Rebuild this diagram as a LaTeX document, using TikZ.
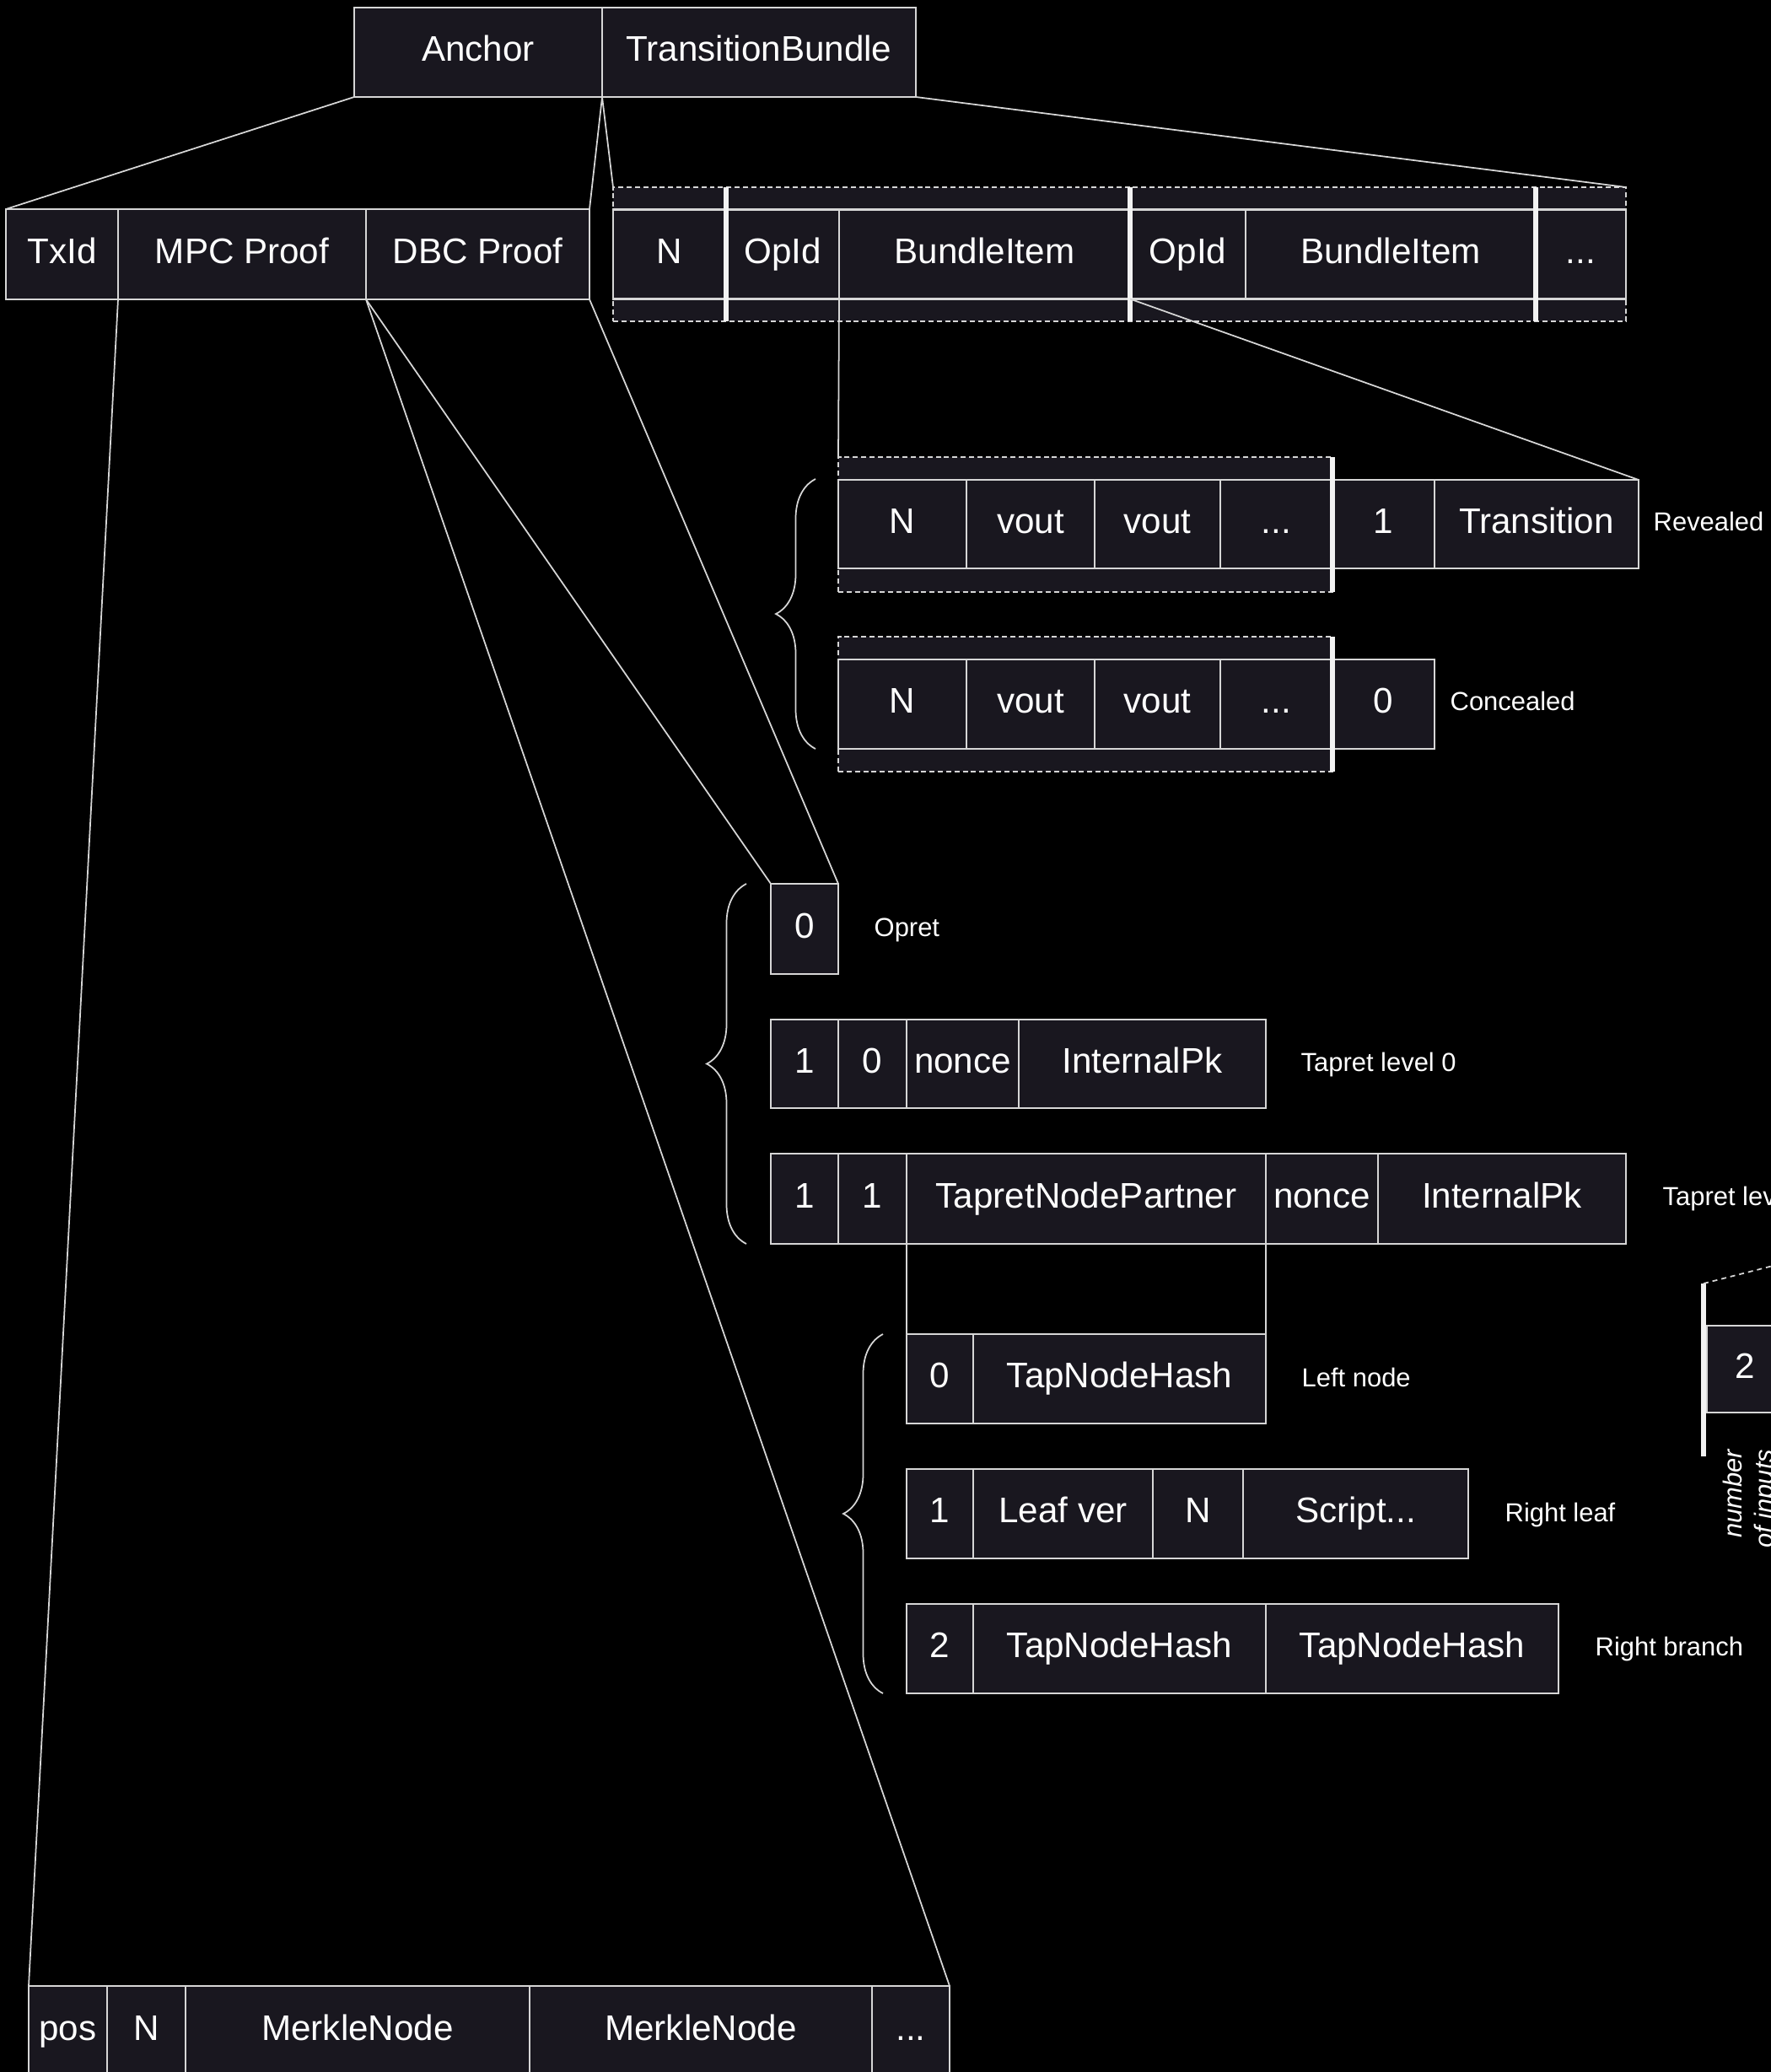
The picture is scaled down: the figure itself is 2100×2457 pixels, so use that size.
\documentclass[tikz,border=0pt]{standalone}
\usepackage{fontspec}
\setmainfont{Liberation Sans}
\usepackage{tikz}
\usetikzlibrary{decorations.pathreplacing}

\definecolor{cellfill}{HTML}{19171F}
\definecolor{edge}{HTML}{D6D6D6}
\newcommand\cellfont{\fontsize{12}{14}\selectfont}
\newcommand\tagfont{\fontsize{8.8}{10.6}\selectfont}
\newcommand\etcdots{...}

\tikzset{
  cell/.style={draw=edge, fill=cellfill, text=white, font=\cellfont, line width=0.7pt,
    inner sep=0pt, outer sep=0pt, text height=8.6pt, text depth=2.5pt},
  slot/.style={draw=edge, fill=cellfill, dash pattern=on 1.7pt off 1.1pt, line width=0.7pt,
    inner sep=0pt, outer sep=0pt},
  bar/.style={draw=white!95!black, line width=1.8pt},
  link/.style={draw=edge, line width=0.5pt},
  grp/.style={draw=edge, line width=0.5pt, decorate, decoration={brace, amplitude=4.7mm}},
  tag/.style={text=white, font=\tagfont, anchor=west, inner sep=0pt, text height=6.3pt, text depth=1.8pt},
}

\begin{document}
\begin{tikzpicture}[x=0.1mm, y=-0.1mm]
    \fill[black] (0,0) rectangle (2100,2457);
    \useasboundingbox (0,0) rectangle (2100,2457);

    % anchor record
    \foreach \nm/\xa/\xb/\txt in {anchor/420/714/Anchor, tb/714/1086/TransitionBundle}
        \node[cell, minimum width=(\xb-\xa)*0.1mm, minimum height=10.6mm] (\nm) at ({(\xa+\xb)/2},62) {\txt};

    \foreach \nm/\xa/\xb/\txt in {txid/7/140/TxId, mpc/140/434/MPC Proof, dbc/434/699/DBC Proof}
        \node[cell, minimum width=(\xb-\xa)*0.1mm, minimum height=10.7mm] (\nm) at ({(\xa+\xb)/2},301.5) {\txt};

    % bundle
    \node[slot, minimum width=120.1mm, minimum height=15.9mm] (bundle) at (1327.5,301.5) {};
    \foreach \nm/\xa/\xb/\txt in {bn/727/861/N, op1/861/995/OpId, bi1/995/1340/BundleItem,
                                  op2/1340/1477/OpId, bi2/1477/1821/BundleItem, bdots/1821/1928/\etcdots}
        \node[cell, minimum width=(\xb-\xa)*0.1mm, minimum height=10.6mm] (\nm) at ({(\xa+\xb)/2},301.5) {\txt};
    \foreach \x in {861,1340,1821}
        \draw[bar] (\x,222) -- (\x,381);

    % bundle item
    \node[slot, minimum width=58.6mm, minimum height=16mm] (reveal) at (1287,622) {};
    \node[slot, minimum width=58.6mm, minimum height=16mm] (conceal) at (1287,835) {};
    \foreach \nm/\xa/\xb/\txt in {rn/994/1146/N, rv1/1146/1298/vout, rv2/1298/1447/vout,
                                  rdots/1447/1580/\etcdots, rone/1580/1701/1, rtrans/1701/1943/Transition}
        \node[cell, minimum width=(\xb-\xa)*0.1mm, minimum height=10.5mm] (\nm) at ({(\xa+\xb)/2},621.5) {\txt};
    \foreach \nm/\xa/\xb/\txt in {cn/994/1146/N, cv1/1146/1298/vout, cv2/1298/1447/vout,
                                  cdots/1447/1580/\etcdots, czero/1580/1701/0}
        \node[cell, minimum width=(\xb-\xa)*0.1mm, minimum height=10.6mm] (\nm) at ({(\xa+\xb)/2},835) {\txt};
    \draw[bar] (1580,542) -- (1580,702);
    \draw[bar] (1580,755) -- (1580,915);
    \node[tag] (lrev) at (1960,622) {Revealed};
    \node[tag] (lcon) at (1719,835) {Concealed};
    \draw[grp] (967,888) -- (967,568);

    % dbc proof
    \node[cell, minimum width=8mm, minimum height=10.7mm] (opret) at (954,1101.5) {0};
    \node[tag] (lopret) at (1036,1103) {Opret};
    \foreach \nm/\xa/\xb/\txt in {fone/914/994/1, fzero/994/1075/0, fnonce/1075/1208/nonce, fpk/1208/1501/InternalPk}
        \node[cell, minimum width=(\xb-\xa)*0.1mm, minimum height=10.5mm] (\nm) at ({(\xa+\xb)/2},1261.5) {\txt};
    \node[tag] (ltap0) at (1542,1263) {Tapret level 0};
    \foreach \nm/\xa/\xb/\txt in {gone/914/994/1, gtwo/994/1075/1, tnp/1075/1501/TapretNodePartner,
                                  gnonce/1501/1634/nonce, gpk/1634/1928/InternalPk}
        \node[cell, minimum width=(\xb-\xa)*0.1mm, minimum height=10.7mm] (\nm) at ({(\xa+\xb)/2},1421.5) {\txt};
    \node[tag] (ltap1) at (1971,1422) {Tapret level 1};
    \draw[grp] (885,1475) -- (885,1048);

    % tap nodes
    \foreach \nm/\xa/\xb/\txt in {hzero/1075/1154/0, hhash/1154/1501/TapNodeHash}
        \node[cell, minimum width=(\xb-\xa)*0.1mm, minimum height=10.6mm] (\nm) at ({(\xa+\xb)/2},1635) {\txt};
    \node[tag] (lleft) at (1543,1637) {Left node};
    \foreach \nm/\xa/\xb/\txt in {lone/1075/1154/1, lver/1154/1367/Leaf ver, ln/1367/1474/N, lscript/1474/1741/Script\etcdots}
        \node[cell, minimum width=(\xb-\xa)*0.1mm, minimum height=10.6mm] (\nm) at ({(\xa+\xb)/2},1795) {\txt};
    \node[tag] (lleaf) at (1784,1797) {Right leaf};
    \foreach \nm/\xa/\xb/\txt in {btwo/1075/1154/2, bha/1154/1501/TapNodeHash, bhb/1501/1848/TapNodeHash}
        \node[cell, minimum width=(\xb-\xa)*0.1mm, minimum height=10.6mm] (\nm) at ({(\xa+\xb)/2},1955) {\txt};
    \node[tag] (lbranch) at (1891,1956) {Right branch};
    \draw[grp] (1047,2008) -- (1047,1582);

    % mpc proof
    \foreach \nm/\xa/\xb/\txt in {kpos/34/127/pos, kn/127/220/N, km1/220/628/MerkleNode, km2/628/1034/MerkleNode,
                                  kdots/1034/1126/\etcdots}
        \node[cell, minimum width=(\xb-\xa)*0.1mm, minimum height=10.7mm] (\nm) at ({(\xa+\xb)/2},2408.5) {\txt};

    % inputs (cut at the edge)
    \node[cell, minimum width=9mm, minimum height=10.3mm] (two) at (2069,1623.5) {2};
    \draw[bar] (2020,1522) -- (2020,1727);
    \coordinate (bartop) at (2020,1522);
    \coordinate (cut) at (2110,1499);
    \draw[link, dash pattern=on 1.7pt off 1.4pt] (bartop) -- (cut);
    \node[text=white, font=\tagfont\itshape, rotate=90, anchor=north east, align=right, inner sep=0pt]
        (ninputs) at (2042,1718) {number\\of inputs};

    % zoom lines
    \draw[link] (anchor.south west) -- (txid.north west);
    \draw[link] (anchor.south east) -- (dbc.north east);
    \draw[link] (tb.south west) -- (bundle.north west);
    \draw[link] (tb.south east) -- (bundle.north east);
    \draw[link] (mpc.south west) -- (kpos.north west);
    \draw[link] (mpc.south east) -- (kdots.north east);
    \draw[link] (dbc.south west) -- (opret.north west);
    \draw[link] (dbc.south east) -- (opret.north east);
    \draw[link] (bi1.south west) -- (reveal.north west);
    \draw[link] (bi1.south east) -- (rtrans.north east);
    \draw[link] (tnp.south west) -- (hzero.north west);
    \draw[link] (tnp.south east) -- (hhash.north east);
\end{tikzpicture}
\end{document}
